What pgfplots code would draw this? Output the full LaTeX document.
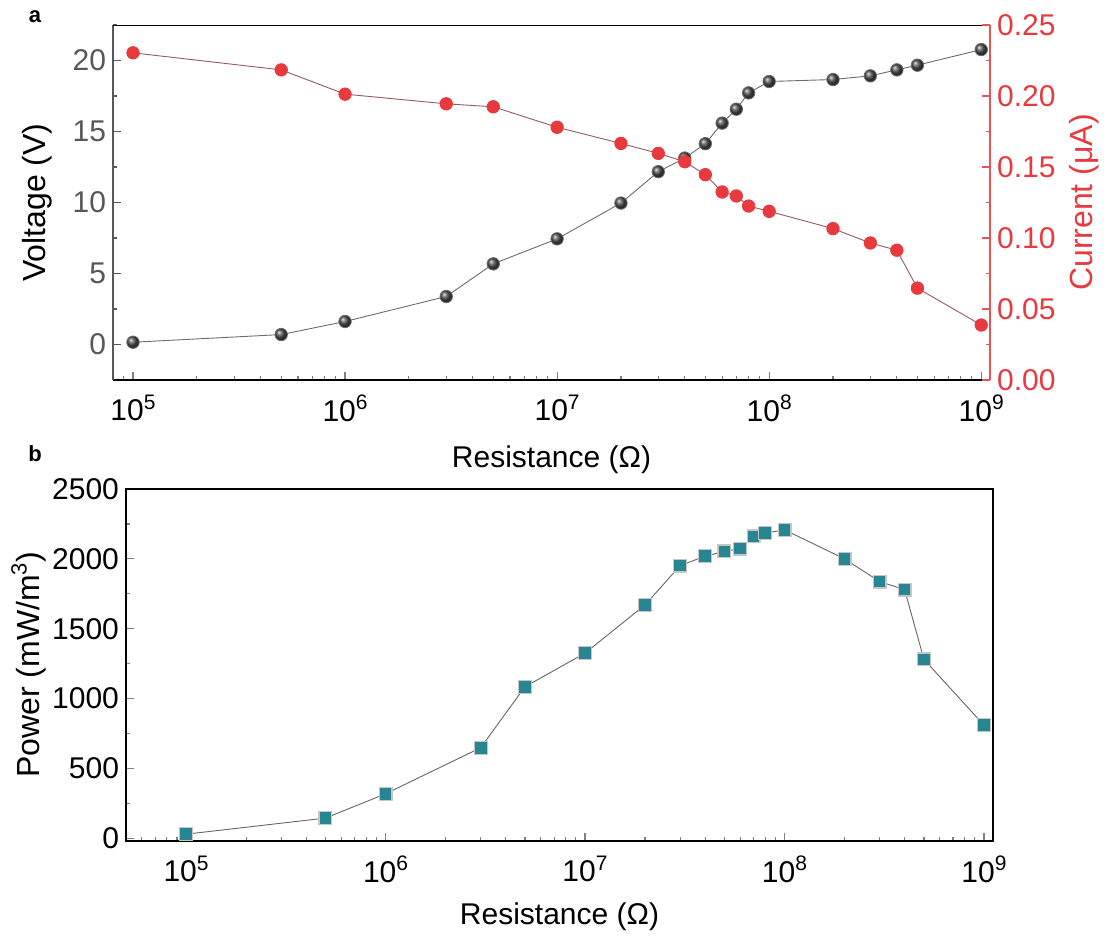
\documentclass[border=0pt]{standalone}
\usepackage{fontspec}
\setmainfont{Liberation Sans}
\usepackage{pgfplots}
\pgfplotsset{compat=1.18}

\definecolor{curred}{RGB}{232,58,62}
\definecolor{redaxis}{RGB}{228,86,86}
\definecolor{redline}{RGB}{150,90,90}
\definecolor{pteal}{RGB}{40,134,146}
\definecolor{vgray}{RGB}{88,88,88}

% 1 px of the reference = 0.5pt
\newcommand\ee[1]{10\raisebox{0.38em}{\fontsize{10.5}{10.5}\selectfont #1}}
\newcommand\lbl{\fontsize{15}{18}\selectfont}
\newcommand\ylbl{\fontsize{16}{19}\selectfont}

\pgfplotsset{
  rpanel/.style={
    scale only axis,
    tick align=inside,
    major tick length=4pt, minor tick length=2.2pt,
    every tick/.append style={line width=0.6pt},
    axis line style={line width=0.8pt},
    tick label style={font=\lbl},
    xticklabel style={yshift=-4pt},
    label style={font=\lbl},
    ylabel style={font=\ylbl},
    /pgf/number format/assume math mode=true,
    /pgf/number format/1000 sep={},
    xtick={1e5,1e6,1e7,1e8,1e9},
    xticklabels={\ee{5},\ee{6},\ee{7},\ee{8},\ee{9}},
    minor xtick={6e4,7e4,8e4,9e4,2e5,3e5,4e5,5e5,6e5,7e5,8e5,9e5,
      2e6,3e6,4e6,5e6,6e6,7e6,8e6,9e6,2e7,3e7,4e7,5e7,6e7,7e7,8e7,9e7,
      2e8,3e8,4e8,5e8,6e8,7e8,8e8,9e8},
    scaled y ticks=false,
  }
}

\begin{document}
\begin{tikzpicture}
\useasboundingbox (0,0) rectangle (553.5pt,-468pt);

\node[font=\fontsize{11}{12}\selectfont\bfseries] at (17.5pt,-8.5pt) {a};
\node[font=\fontsize{11}{12}\selectfont\bfseries] at (17.5pt,-227pt) {b};

% panel a, voltage
\begin{semilogxaxis}[rpanel,
  at={(56.5pt,-190pt)}, anchor=south west,
  width=438.5pt, height=177.5pt,
  xmin=8.05e4, xmax=1.10e9, ymin=-2.5, ymax=22.5,
  axis x line*=bottom, axis y line*=left,
  ytick={0,5,10,15,20},
  minor ytick={-2.5,2.5,7.5,12.5,17.5,22.5},
  y axis line style={vgray},
  ytick style={vgray},
  yticklabel style={vgray},
  xlabel={Resistance (Ω)}, ylabel={Voltage (V)},
  xlabel style={at={(axis description cs:0.5,-0.225)}, anchor=center},
  ylabel style={at={(axis description cs:-0.0867,0.5)}, anchor=center},
]
\addplot[draw=gray!85!black, line width=0.45pt, mark=ball, mark size=3.1pt,
  mark options={ball color=black!70}] table {
x y
1e5 0.16
5e5 0.70
1e6 1.62
3e6 3.38
5e6 5.68
1e7 7.44
2e7 9.96
3e7 12.17
4e7 13.13
5e7 14.14
6e7 15.59
7e7 16.57
8e7 17.72
1e8 18.52
2e8 18.66
3e8 18.92
4e8 19.34
5e8 19.67
1e9 20.77
};
\draw[line width=0.8pt] (rel axis cs:0,1) -- (rel axis cs:1,1);
\end{semilogxaxis}

% panel a, current
\begin{semilogxaxis}[rpanel,
  at={(56.5pt,-190pt)}, anchor=south west,
  width=438.5pt, height=177.5pt,
  xmin=8.05e4, xmax=1.10e9, ymin=0, ymax=0.25,
  axis y line*=right, axis x line=none,
  ytick={0,0.05,0.10,0.15,0.20,0.25},
  minor ytick={0.025,0.075,0.125,0.175,0.225},
  yticklabel style={curred, /pgf/number format/fixed,
    /pgf/number format/fixed zerofill, /pgf/number format/precision=2},
  y axis line style={redaxis},
  ytick style={redaxis},
  ylabel={Current (μA)},
  ylabel style={curred, at={(axis description cs:1.107,0.5)}, anchor=center},
]
\addplot[draw=redline, line width=0.45pt, mark=*, mark size=3.1pt,
  mark options={fill=curred, draw=curred}] table {
x y
1e5 0.2304
5e5 0.2184
1e6 0.2013
3e6 0.1945
5e6 0.1924
1e7 0.1780
2e7 0.1666
3e7 0.1596
4e7 0.1537
5e7 0.1446
6e7 0.1324
7e7 0.1296
8e7 0.1225
1e8 0.1188
2e8 0.1066
3e8 0.0965
4e8 0.0914
5e8 0.0647
1e9 0.0387
};
\end{semilogxaxis}

% panel b, power
\begin{semilogxaxis}[rpanel,
  at={(63pt,-420.5pt)}, anchor=south west,
  width=433.5pt, height=176pt,
  xmin=5e4, xmax=1.11e9, ymin=-20, ymax=2500,
  xtick pos=left, ytick pos=left,
  ytick={0,500,1000,1500,2000,2500},
  minor ytick={250,750,1250,1750,2250},
  xlabel={Resistance (Ω)},
  ylabel={Power (mW/m\raisebox{0.42em}{\fontsize{11}{11}\selectfont 3})},
  xlabel style={at={(axis description cs:0.5,-0.215)}, anchor=center},
  ylabel style={at={(axis description cs:-0.112,0.5)}, anchor=center},
]
\addplot[draw=gray!80!black, line width=0.45pt, mark=square*, mark size=3.2pt,
  mark options={fill=pteal, draw=gray!45, line width=0.6pt}] table {
x y
1e5 29
5e5 144
1e6 318
3e6 648
5e6 1084
1e7 1325
2e7 1670
3e7 1952
4e7 2019
5e7 2053
6e7 2074
7e7 2160
8e7 2184
1e8 2208
2e8 2000
3e8 1837
4e8 1780
5e8 1280
1e9 809
};
\end{semilogxaxis}
\end{tikzpicture}
\end{document}
